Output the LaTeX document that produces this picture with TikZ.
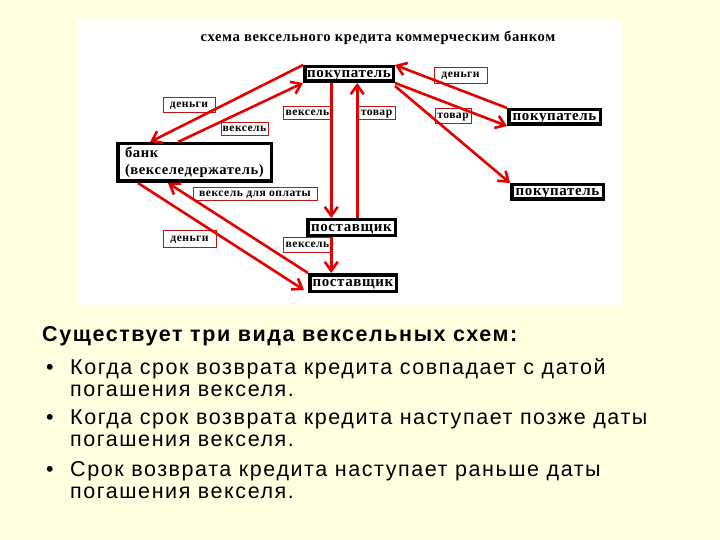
\documentclass[tikz,border=0pt]{standalone}
\usepackage{fontspec}
\setmainfont{Liberation Sans}[LetterSpace=7.3]
\newfontfamily\diagfont{Liberation Serif}[LetterSpace=4]
\usetikzlibrary{arrows.meta}
\definecolor{slidebg}{RGB}{255,255,224}
\definecolor{flowred}{RGB}{228,0,0}
\definecolor{framered}{RGB}{190,20,20}
\tikzset{
	party/.style={draw=black, line width=3.5pt, fill=white, inner sep=0pt,
		text height=7pt, text depth=0pt,
		font=\diagfont\bfseries\fontsize{15}{17}\selectfont},
	flowlabel/.style={draw=framered, line width=0.8pt, fill=white, inner sep=0pt,
		text height=5.5pt, text depth=0pt,
		font=\diagfont\bfseries\fontsize{11.6}{14}\selectfont},
	flow/.style={draw=flowred, line width=2.6pt,
		-{Straight Barb[length=9pt,width=13pt]}},
	slidetext/.style={anchor=base west, inner sep=0pt,
		font=\fontsize{21.5}{24}\selectfont}
}
\begin{document}
\begin{tikzpicture}[x=1pt, y=-1pt]
	% Slide and picture area:
	\useasboundingbox (0,0) rectangle (720,540);
	\fill[slidebg] (0,0) rectangle (720,540);
	\fill[white] (77,20) rectangle (622,305);
	\node[inner sep=0pt, font=\diagfont\bfseries\fontsize{14.6}{17}\selectfont] (title) at (378,38)
		{схема вексельного кредита коммерческим банком};

	% Parties:
	\node[party, minimum width=88.5pt, minimum height=14.5pt] (buyer) at (349,74) {покупатель};
	\node[party, minimum width=91.5pt, minimum height=14.5pt] (buyerA) at (554.5,117) {покупатель};
	\node[party, minimum width=91.5pt, minimum height=14.5pt] (buyerB) at (557.5,192) {покупатель};
	\node[party, minimum width=153.5pt, minimum height=37.5pt, text width=139pt, align=left,
		text height=, text depth=,
		font=\diagfont\bfseries\fontsize{14.6}{17}\selectfont] (bank) at (194.5,162.5)
		{банк\\(векселедержатель)};
	\node[party, minimum width=87.5pt, minimum height=15.5pt] (supplierA) at (351.5,227.5) {поставщик};
	\node[party, minimum width=86.5pt, minimum height=16.5pt] (supplierB) at (353,283) {поставщик};

	% Labels of the flows:
	\node[flowlabel, minimum width=52pt, minimum height=15pt] (moneyL) at (189,104.5) {деньги};
	\node[flowlabel, minimum width=47pt, minimum height=13pt] (billL) at (244.5,128.5) {вексель};
	\node[flowlabel, minimum width=49pt, minimum height=13pt] (billM) at (307.5,112.5) {вексель};
	\node[flowlabel, minimum width=37pt, minimum height=13pt] (goodsM) at (376.5,112.5) {товар};
	\node[flowlabel, minimum width=53pt, minimum height=16pt] (moneyR) at (460.5,75) {деньги};
	\node[flowlabel, minimum width=36pt, minimum height=15pt] (goodsR) at (453,115.5) {товар};
	\node[flowlabel, minimum width=124pt, minimum height=13pt] (billPay) at (255,193.5) {вексель для оплаты};
	\node[flowlabel, minimum width=53pt, minimum height=17pt] (moneyB) at (189.5,238.5) {деньги};
	\node[flowlabel, minimum width=49pt, minimum height=15pt] (billB) at (307.5,244.5) {вексель};

	% Flows:
	\draw[flow] (buyer.north west) -- ([xshift=34pt]bank.north west);
	\draw[flow] ([xshift=62pt]bank.north west) -- (buyer.south west);
	\draw[flow] ([xshift=28.25pt]buyer.south west) -- ([xshift=25.25pt]supplierA.north west);
	\draw[flow] ([xshift=51.25pt]supplierA.north west) -- ([xshift=54.25pt]buyer.south west);
	\draw[flow] (buyerA.north west) -- (buyer.north east);
	\draw[flow] (buyer.south east) -- (buyerA.south west);
	\draw[flow] ([yshift=-3pt]buyer.south east) -- (buyerB.north west);
	\draw[flow] ([xshift=22pt]bank.south west) -- ([xshift=-4pt, yshift=3pt]supplierB.south west);
	\draw[flow] (supplierB.north west) -- ([xshift=52pt]bank.south west);
	\draw[flow] ([xshift=25.25pt]supplierA.south west) -- ([xshift=23.25pt]supplierB.north west);

	% Text of the slide:
	\node[slidetext, font=\bfseries\fontsize{21.5}{24}\selectfont] (heading) at (42,341)
		{Существует три вида вексельных схем:};
	\node[slidetext] (dotA) at (46,374) {•};
	\node[slidetext] (lineA1) at (70,374) {Когда срок возврата кредита совпадает с датой};
	\node[slidetext] (lineA2) at (70,396) {погашения векселя.};
	\node[slidetext] (dotB) at (46,424) {•};
	\node[slidetext] (lineB1) at (70,424) {Когда срок возврата кредита наступает позже даты};
	\node[slidetext] (lineB2) at (70,446) {погашения векселя.};
	\node[slidetext] (dotC) at (46,476) {•};
	\node[slidetext] (lineC1) at (70,476) {Срок возврата кредита наступает раньше даты};
	\node[slidetext] (lineC2) at (70,498) {погашения векселя.};
\end{tikzpicture}
\end{document}
